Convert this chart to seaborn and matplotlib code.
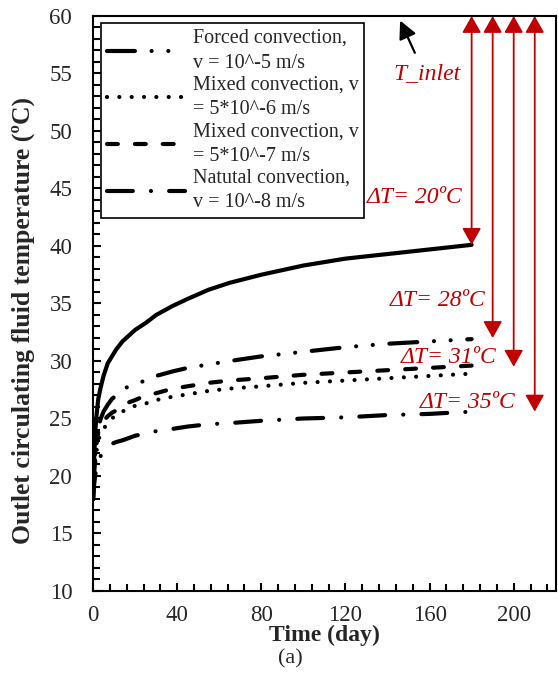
import numpy as np
import pandas as pd
import seaborn as sns
import matplotlib.pyplot as plt
from matplotlib.ticker import MultipleLocator

# data
days = [0, 0.5, 1, 1.5, 2.5, 3.5, 5, 7, 9, 11, 14, 17, 20, 25, 30, 38, 45, 55, 65, 80,
        100, 120, 140, 160, 180]
t_solid = [18.0, 21.3, 23.7, 25.0, 26.7, 27.6, 28.7, 29.8, 30.4, 31.0, 31.7, 32.2, 32.7,
           33.3, 34.0, 34.8, 35.4, 36.2, 36.8, 37.5, 38.3, 38.9, 39.3, 39.7, 40.1]
t_forced = [18.0, 20.5, 22.0, 23.0, 24.2, 24.9, 25.6, 26.2, 26.7, 27.0, 27.5, 27.8, 28.0,
            28.3, 28.7, 29.1, 29.4, 29.7, 30.0, 30.4, 30.8, 31.2, 31.5, 31.7, 31.9]
t_mixed6 = [18.0, 19.8, 21.0, 22.0, 23.1, 23.6, 24.1, 24.6, 25.0, 25.3, 25.6, 25.9, 26.1,
            26.3, 26.6, 26.9, 27.1, 27.4, 27.6, 27.8, 28.1, 28.3, 28.5, 28.7, 28.9]
t_mixed7 = [18.0, 20.0, 21.5, 22.6, 23.8, 24.4, 24.8, 25.2, 25.5, 25.7, 26.1, 26.4, 26.6,
            27.0, 27.2, 27.6, 27.8, 28.1, 28.3, 28.5, 28.8, 29.0, 29.2, 29.4, 29.6]
t_natural = [18.0, 19.2, 20.0, 20.6, 21.2, 21.7, 22.1, 22.5, 22.8, 22.95, 23.1, 23.3, 23.5,
             23.7, 23.9, 24.1, 24.3, 24.5, 24.6, 24.8, 25.0, 25.1, 25.3, 25.4, 25.6]

labels = ["Forced convection,\nv = 10^-5 m/s",
          "Mixed convection, v\n= 5*10^-6 m/s",
          "Mixed convection, v\n= 5*10^-7 m/s",
          "Natutal convection,\nv = 10^-8 m/s"]

t_inlet = 60
arrow_x = [180, 190, 200, 210]
arrow_end = [40.1, 32.0, 29.5, 25.6]
dt_text = ["ΔT= 20ºC", "ΔT= 28ºC", "ΔT= 31ºC", "ΔT= 35ºC"]
dt_pos = [(175.5, 44.2), (186.5, 35.3), (192, 30.3), (201, 26.4)]

sns.set_theme(style="ticks")
plt.rcParams['font.family'] = ['Liberation Serif', 'DejaVu Serif']

red = '#C00000'
fig = plt.figure(figsize=(5.58, 6.86), dpi=100)
ax = fig.add_axes([0.1667, 0.1385, 0.8293, 0.8382])

lw = 3
sns.lineplot(x=days, y=t_solid, ax=ax, color='black', lw=lw, label='_nolegend_')
styles = [(0, (6.7, 4, 0.01, 4, 0.01, 4)),
          (0, (0.01, 2.95)),
          (0, (2.6, 4.1)),
          (0, (6.2, 4.35, 0.01, 4.35))]
for vals, lab, ls in zip([t_forced, t_mixed6, t_mixed7, t_natural], labels, styles):
    sns.lineplot(x=days, y=vals, ax=ax, color='black', lw=lw, linestyle=ls, label=lab)
for line in ax.lines:
    line.set_dash_capstyle('round')
    line.set_solid_capstyle('round')

ax.set_xlim(0, 220)
ax.set_ylim(10, 60)
ax.xaxis.set_major_locator(MultipleLocator(40))
ax.xaxis.set_minor_locator(MultipleLocator(8))
ax.yaxis.set_major_locator(MultipleLocator(5))
ax.yaxis.set_minor_locator(MultipleLocator(1))
ax.tick_params(which='both', direction='in', top=False, right=False,
               width=1.5, color='black', labelsize=16.5)
ax.tick_params(axis='x', which='both', pad=10)
ax.tick_params(axis='y', which='both', pad=15)
ax.tick_params(which='major', length=6)
ax.tick_params(which='minor', length=5)
for s in ax.spines.values():
    s.set_color('black')
    s.set_linewidth(1.5)

ax.set_xlabel("Time (day)", fontsize=17, fontweight='bold', labelpad=-1)
ax.set_ylabel("Outlet circulating fluid temperature (ºC)", fontsize=18.5,
              fontweight='bold')
ax.yaxis.set_label_coords(-0.125, 0.47)
fig.text(0.52, 0.039, "(a)", ha='center', va='center', fontsize=16)

# temperature difference arrows
for x, y1, txt, (tx, ty) in zip(arrow_x, arrow_end, dt_text, dt_pos):
    ax.annotate('', xy=(x, y1), xytext=(x, t_inlet),
                arrowprops=dict(arrowstyle='<|-|>,head_length=0.85,head_width=0.48',
                                color=red, lw=1.3, shrinkA=0, shrinkB=0,
                                mutation_scale=12))
    ax.text(tx, ty, txt, color=red, fontsize=17, style='italic',
            ha='right', va='center')

ax.annotate('', xy=(146, 59.6), xytext=(153, 56.8),
            arrowprops=dict(arrowstyle='-|>,head_length=0.9,head_width=0.45',
                            color='black', lw=1.6, shrinkA=0, shrinkB=0,
                            mutation_scale=12))
ax.text(158.8, 55, "T_inlet", color=red, fontsize=17, style='italic',
        ha='center', va='center')

leg = ax.legend(loc='upper left', bbox_to_anchor=(0.017, 0.988), borderaxespad=0,
                fontsize=14.5, handlelength=3.9, handletextpad=0.35, borderpad=0.3,
                labelspacing=0.15, fancybox=False, framealpha=1, edgecolor='black')
leg.get_frame().set_linewidth(1.2)
for t in leg.get_texts():
    t.set_linespacing(1.4)

fig.savefig('out.png', dpi=100)
